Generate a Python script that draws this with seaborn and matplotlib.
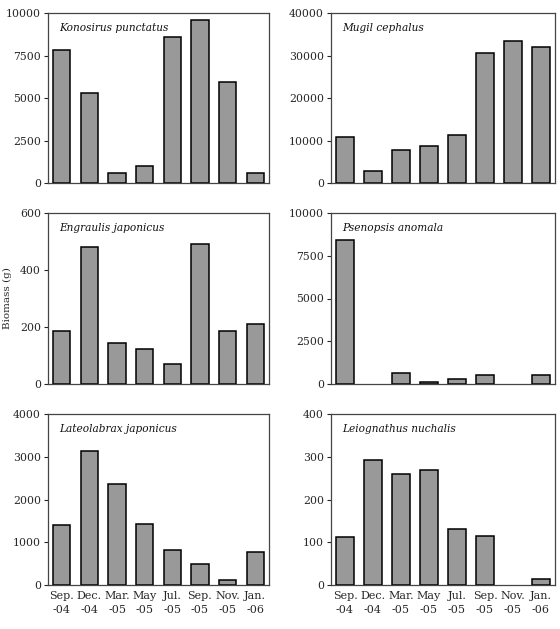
import matplotlib
matplotlib.use("Agg")
import matplotlib.pyplot as plt
import seaborn as sns
import pandas as pd
import numpy as np

months = ["Sep.\n-04", "Dec.\n-04", "Mar.\n-05", "May\n-05", "Jul.\n-05", "Sep.\n-05", "Nov.\n-05", "Jan.\n-06"]

species = ["Konosirus punctatus", "Mugil cephalus", "Engraulis japonicus",
           "Psenopsis anomala", "Lateolabrax japonicus", "Leiognathus nuchalis"]

konosirus = [7850, 5280, 560, 980, 8560, 9580, 5950, 560]
mugil = [10900, 2900, 7800, 8600, 11400, 30500, 33300, 31900]
engraulis = [185, 482, 143, 124, 70, 492, 185, 212]
psenopsis = [8400, 0, 650, 100, 300, 500, 0, 500]
lateolabrax = [1400, 3140, 2360, 1420, 820, 500, 120, 780]
leiognathus = [112, 293, 259, 269, 131, 115, 0, 13]

values = [konosirus, mugil, engraulis, psenopsis, lateolabrax, leiognathus]
ylims = [10000, 40000, 600, 10000, 4000, 400]
ysteps = [2500, 10000, 200, 2500, 1000, 100]

sns.set_style("white")
plt.rcParams['font.family'] = ['DejaVu Serif']

fig = plt.figure(figsize=(5.6, 6.29), dpi=100)
W, H = 560, 629
lefts = [48, 331]
widths = [221, 224]
rows = [(13, 183), (213, 384), (414, 585)]

for i, (sp, vals) in enumerate(zip(species, values)):
    r, c = divmod(i, 2)
    top, bot = rows[r]
    ax = fig.add_axes([lefts[c] / W, 1 - bot / H, widths[c] / W, (bot - top) / H])
    df = pd.DataFrame({"month": range(8), "val": vals})
    sns.barplot(data=df, x="month", y="val", ax=ax, color="#999999",
                saturation=1, edgecolor="black", linewidth=1.1, width=0.62)
    for p in ax.patches:
        if p.get_height() == 0:
            p.set_linewidth(0)
    ax.set_xlim(-0.5, 7.5)
    ax.set_ylim(0, ylims[i])
    ax.set_yticks(np.arange(0, ylims[i] + 1, ysteps[i]))
    ax.set_xlabel("")
    ax.set_ylabel("")
    ax.set_xticks(range(8))
    if r == 2:
        ax.set_xticklabels(months, fontsize=8, linespacing=1.55)
    else:
        ax.set_xticklabels([])
    ax.set_xticks(np.arange(0.5, 7.5, 1.0), minor=True)
    ax.tick_params(axis="x", which="major", length=0, pad=4)
    ax.tick_params(axis="x", which="minor", length=2.5, width=0.8, direction="inout", color="#333333")
    ax.tick_params(axis="y", which="major", length=3, width=0.8, direction="out", labelsize=7.8, pad=2, left=True)
    for s in ax.spines.values():
        s.set_color("#444444")
        s.set_linewidth(0.9)
    ax.text(0.05, 0.91, sp, transform=ax.transAxes, fontsize=7.6, style="italic",
            va="center", ha="left", color="#111111")

fig.text(7 / W, 1 - 298 / H, "Biomass (g)", rotation=90, va="center", ha="center", fontsize=7.5)

fig.savefig("out.png", dpi=100)
